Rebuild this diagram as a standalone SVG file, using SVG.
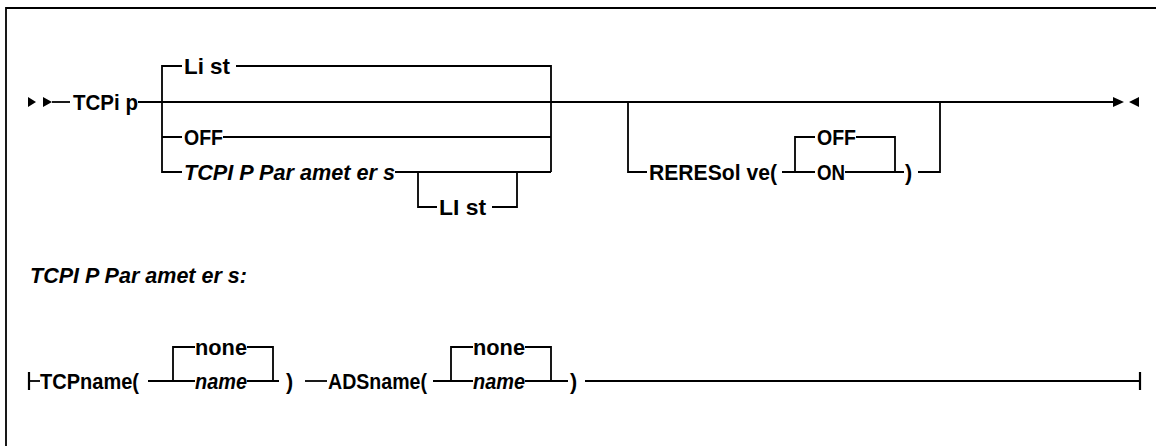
<svg xmlns="http://www.w3.org/2000/svg" width="1156" height="446" viewBox="0 0 1156 446">
<style>
.ln{stroke:#000;stroke-width:1.8;fill:none}
.bar{stroke:#000;stroke-width:2.2;fill:none}
.arr{fill:#000;stroke:none}
text{font-family:"Liberation Sans",Arial,sans-serif;font-weight:bold;font-size:21.5px;fill:#000}
.it{font-style:italic}
</style>
<rect width="1156" height="446" fill="#fff"/>
<g id="frame"><path class="ln" d="M6,446 V8 H1156"/></g>
<g id="connectors">
<path class="arr" d="M28,97 L36,102 L28,107 Z M43,97 L52,102 L43,107 Z"/>
<path class="ln" d="M52,102 H70"/>
<path class="ln" d="M138,102 H1114"/>
<path class="ln" d="M162,102 V66 H182 M236,66 H551 V172"/>
<path class="ln" d="M162,102 V172 H182"/>
<path class="ln" d="M162,137 H182 M223,137 H551"/>
<path class="ln" d="M395,172 H551"/>
<path class="ln" d="M418,172 V207 H437 M492,207 H517 V172"/>
<path class="ln" d="M628,102 V172 H647"/>
<path class="ln" d="M782,172 H815 M795,172 V137 H815 M856,137 H895 V172 M845,172 H904"/>
<path class="ln" d="M918,172 H940 V102"/>
<path class="arr" d="M1113,97 L1124,102 L1113,107 Z M1139,97 L1129,102 L1139,107 Z"/>
<path class="bar" d="M29,372 V390"/>
<path class="ln" d="M29,381 H40"/>
<path class="ln" d="M148,381 H195 M173,381 V347 H195 M247,347 H273 V381 M247,381 H279"/>
<path class="ln" d="M305,381 H327"/>
<path class="ln" d="M433,381 H473 M451,381 V347 H473 M525,347 H551 V381 M525,381 H568"/>
<path class="ln" d="M585,381 H1140"/>
<path class="bar" d="M1140,372 V390"/>
</g>
<g id="node-tcpip"><text x="73" y="109.5" textLength="65" lengthAdjust="spacingAndGlyphs">TCPi p</text></g>
<g id="node-list"><text x="184" y="73.5" textLength="46" lengthAdjust="spacingAndGlyphs">Li st</text></g>
<g id="node-off"><text x="184" y="144.5" textLength="39" lengthAdjust="spacingAndGlyphs">OFF</text></g>
<g id="node-tcpip-params"><text class="it" x="184" y="179.5" textLength="211" lengthAdjust="spacingAndGlyphs">TCPI P  Par amet er s</text></g>
<g id="node-list2"><text x="439" y="214.5" textLength="47" lengthAdjust="spacingAndGlyphs">LI st</text></g>
<g id="node-reresolve"><text x="649" y="179.5" textLength="128" lengthAdjust="spacingAndGlyphs">RERESol ve(</text></g>
<g id="node-re-off"><text x="817" y="144.5" textLength="39" lengthAdjust="spacingAndGlyphs">OFF</text></g>
<g id="node-re-on"><text x="817" y="179.5" textLength="28" lengthAdjust="spacingAndGlyphs">ON</text></g>
<g id="node-re-close"><text x="905" y="179.5">)</text></g>
<g id="title"><text class="it" x="30" y="283" textLength="217" lengthAdjust="spacingAndGlyphs">TCPI P  Par amet er s:</text></g>
<g id="node-tcpname"><text x="40" y="388.5" textLength="99" lengthAdjust="spacingAndGlyphs">TCPname(</text></g>
<g id="node-tcp-none"><text x="195" y="354.5" textLength="52" lengthAdjust="spacingAndGlyphs">none</text></g>
<g id="node-tcp-name"><text class="it" x="195" y="388.5" textLength="52" lengthAdjust="spacingAndGlyphs">name</text></g>
<g id="node-tcp-close"><text x="286" y="388.5">)</text></g>
<g id="node-adsname"><text x="328" y="388.5" textLength="99" lengthAdjust="spacingAndGlyphs">ADSname(</text></g>
<g id="node-ads-none"><text x="473" y="354.5" textLength="52" lengthAdjust="spacingAndGlyphs">none</text></g>
<g id="node-ads-name"><text class="it" x="473" y="388.5" textLength="52" lengthAdjust="spacingAndGlyphs">name</text></g>
<g id="node-ads-close"><text x="570" y="388.5">)</text></g>
</svg>
